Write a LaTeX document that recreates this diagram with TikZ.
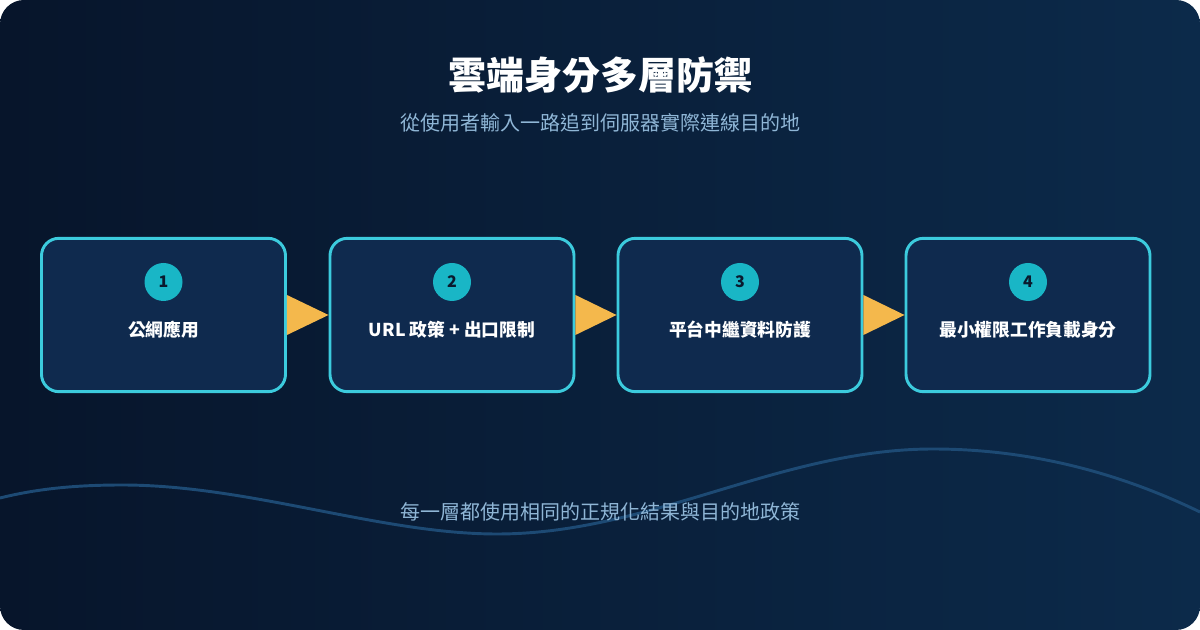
\documentclass[tikz,border=0pt]{standalone}
\usepackage{fontspec}
\setmainfont{Noto Sans CJK TC}
\usepackage{tikz}
\usetikzlibrary{calc}

\definecolor{bgleft}{HTML}{07152B}
\definecolor{bgright}{HTML}{0C2A4A}
\definecolor{boxfill}{HTML}{0F2A4E}
\definecolor{boxline}{HTML}{3CCBDD}
\definecolor{numfill}{HTML}{19B6C6}
\definecolor{numtext}{HTML}{0A1A2E}
\definecolor{tipcol}{HTML}{F4B84C}
\definecolor{softtext}{HTML}{8FB6D6}
\definecolor{wavecol}{HTML}{1D4A74}

\tikzset{
	stage/.style={draw=boxline, fill=boxfill, line width=2.2pt, rounded corners=13pt,
		minimum width=183pt, minimum height=115pt, inner sep=0pt},
	num/.style={circle, fill=numfill, minimum size=28.5pt, inner sep=0pt,
		text=numtext, font=\bfseries\fontsize{12}{12}\selectfont},
	lbl/.style={text=white, font=\bfseries\fontsize{13.3}{15}\selectfont},
	tip/.style={fill=tipcol},
}

\begin{document}
\begin{tikzpicture}[x=0.75pt,y=-0.75pt]
	
	% background
	\useasboundingbox (0,0) rectangle (1200,630);
	\fill[white] (0,0) rectangle (1200,630);
	\shade[left color=bgleft, right color=bgright, rounded corners=18pt] (0,0) rectangle (1200,630);
	
	% wave
	\begin{scope}
		\clip[rounded corners=18pt] (0,0) rectangle (1200,630);
		\draw[wavecol, line width=2.2pt] (0,498) .. controls (40,488) and (80,485) .. (122,485)
			.. controls (250,485) and (380,534) .. (497,534)
			.. controls (650,534) and (780,449) .. (933,449)
			.. controls (1040,449) and (1130,478) .. (1200,512);
	\end{scope}
	
	% titles
	\node[text=white, font=\bfseries\fontsize{28.5}{30}\selectfont] (title) at (600,75) {雲端身分多層防禦};
	\node[text=softtext, font=\fontsize{15}{17}\selectfont] (subtitle) at (600,123) {從使用者輸入一路追到伺服器實際連線目的地};
	
	% stages
	\node[stage] (b1) at (163.5,315) {};
	\node[stage] (b2) at (452,315) {};
	\node[stage] (b3) at (740,315) {};
	\node[stage] (b4) at (1028,315) {};
	
	\node[num] (n1) at ($(b1.center)+(0,-33)$) {1};
	\node[num] (n2) at ($(b2.center)+(0,-33)$) {2};
	\node[num] (n3) at ($(b3.center)+(0,-33)$) {3};
	\node[num] (n4) at ($(b4.center)+(0,-33)$) {4};
	
	\node[lbl] (l1) at ($(b1.center)+(0,15)$) {公網應用};
	\node[lbl] (l2) at ($(b2.center)+(0,15)$) {URL 政策 + 出口限制};
	\node[lbl] (l3) at ($(b3.center)+(0,15)$) {平台中繼資料防護};
	\node[lbl] (l4) at ($(b4.center)+(0,15)$) {最小權限工作負載身分};
	
	% arrows
	\fill[tip] ($(b1.east)+(0,-20)$) -- (b2.west) -- ($(b1.east)+(0,20)$) -- cycle;
	\fill[tip] ($(b2.east)+(0,-20)$) -- (b3.west) -- ($(b2.east)+(0,20)$) -- cycle;
	\fill[tip] ($(b3.east)+(0,-20)$) -- (b4.west) -- ($(b3.east)+(0,20)$) -- cycle;
	
	% footer
	\node[text=softtext, font=\fontsize{15}{17}\selectfont] (footer) at (600,512) {每一層都使用相同的正規化結果與目的地政策};
	
\end{tikzpicture}
\end{document}
